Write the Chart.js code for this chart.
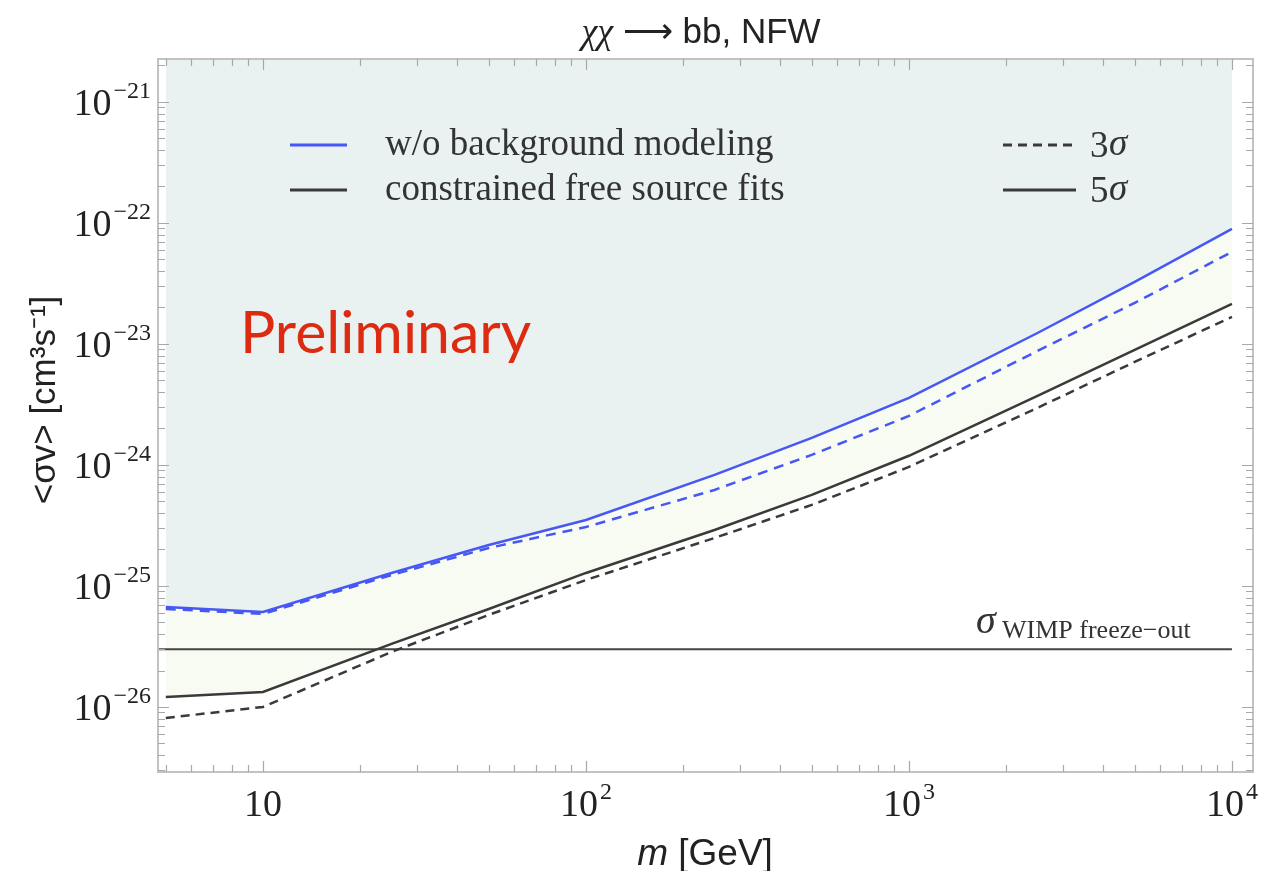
<!DOCTYPE html>
<html>
<head>
<meta charset="utf-8">
<script src="https://cdn.jsdelivr.net/npm/chart.js@4.4.1/dist/chart.umd.min.js"></script>
<style>
    html, body { margin: 0; padding: 0; background: #fff; }
    #wrap { width: 1264px; height: 871px; position: relative; }
</style>
</head>
<body>
<div id="wrap"><canvas id="chart"></canvas></div>
<script>
    // DM mass points (GeV) and the limits (cm^3 s^-1)
    var masses = [5, 10, 25, 50, 100, 250, 500, 1000, 2500, 5000, 10000];
    var noBkg5sigma = [6.7e-26, 6.1e-26, 1.28e-25, 2.18e-25, 3.51e-25, 8.27e-25, 1.67e-24, 3.58e-24, 1.23e-23, 3.25e-23, 8.92e-23];
    var noBkg3sigma = [6.45e-26, 5.87e-26, 1.23e-25, 2.06e-25, 3.07e-25, 6.21e-25, 1.21e-24, 2.54e-24, 8.75e-24, 2.18e-23, 5.76e-23];
    var fit5sigma = [1.21e-26, 1.33e-26, 3.32e-26, 6.45e-26, 1.28e-25, 2.90e-25, 5.65e-25, 1.19e-24, 3.72e-24, 8.92e-24, 2.14e-23];
    var fit3sigma = [8.1e-27, 1.0e-26, 2.85e-26, 5.76e-26, 1.12e-25, 2.49e-25, 4.67e-25, 9.62e-25, 2.96e-24, 7.10e-24, 1.67e-23];
    var freezeOut = 3e-26;

    var xTickExps = [1, 2, 3, 4];
    var yTickExps = [-26, -25, -24, -23, -22, -21];
    var xRange = [4.73, 11620];
    var yRange = [2.9e-27, 2.26e-21];

    var BLUE = '#4657f4';
    var DARK = '#3a3a3a';
    var SERIF = '"Liberation Serif", "DejaVu Serif", serif';
    var SANS = '"Liberation Sans", Arial, sans-serif';

    function series(values) {
        return masses.map(function (m, i) { return {x: m, y: values[i]}; });
    }

    // "10" with a raised exponent, anchored at (x, y)
    function powerLabel(ctx, exp, x, y, align) {
        var base = '10';
        var sup = exp === 1 ? '' : String(exp).replace('-', '\u2212');
        ctx.font = '38px ' + SERIF;
        var wb = ctx.measureText(base).width;
        ctx.font = '24px ' + SERIF;
        var ws = sup ? ctx.measureText(sup).width + 2 : 0;
        var left = align === 'right' ? x - wb - ws : x - (wb + ws) / 2;
        ctx.textAlign = 'left';
        ctx.textBaseline = 'alphabetic';
        ctx.font = '38px ' + SERIF;
        ctx.fillText(base, left, y + 13);
        if (sup) {
            ctx.font = '24px ' + SERIF;
            ctx.fillText(sup, left + wb + 2, y - 4);
        }
    }

    var decorations = {
        id: 'decorations',
        beforeDraw: function (chart) {
            var ctx = chart.ctx;
            ctx.save();
            ctx.fillStyle = '#fff';
            ctx.fillRect(0, 0, chart.width, chart.height);
            ctx.restore();
        },
        afterDatasetsDraw: function (chart) {
            var ctx = chart.ctx;
            var a = chart.chartArea;
            var xs = chart.scales.x, ys = chart.scales.y;
            ctx.save();

            // frame
            ctx.strokeStyle = '#c2c2c2';
            ctx.lineWidth = 2;
            ctx.strokeRect(a.left, a.top, a.right - a.left, a.bottom - a.top);

            // ticks on all four sides, pointing inward
            ctx.strokeStyle = '#a8a8a8';
            ctx.lineWidth = 1.2;
            ctx.beginPath();
            var e, k, v, p, len;
            for (e = 0; e <= 4; e++) {
                for (k = 1; k <= 9; k++) {
                    v = k * Math.pow(10, e);
                    if (v < xRange[0] || v > xRange[1]) continue;
                    p = Math.round(xs.getPixelForValue(v)) + 0.5;
                    len = k === 1 ? 11 : 7;
                    ctx.moveTo(p, a.bottom); ctx.lineTo(p, a.bottom - len);
                    ctx.moveTo(p, a.top); ctx.lineTo(p, a.top + len);
                }
            }
            for (e = -27; e <= -21; e++) {
                for (k = 1; k <= 9; k++) {
                    v = k * Math.pow(10, e);
                    if (v < yRange[0] || v > yRange[1]) continue;
                    p = Math.round(ys.getPixelForValue(v)) + 0.5;
                    len = k === 1 ? 11 : 7;
                    ctx.moveTo(a.left, p); ctx.lineTo(a.left + len, p);
                    ctx.moveTo(a.right, p); ctx.lineTo(a.right - len, p);
                }
            }
            ctx.stroke();

            // tick labels
            ctx.fillStyle = '#222';
            xTickExps.forEach(function (ex) {
                powerLabel(ctx, ex, xs.getPixelForValue(Math.pow(10, ex)), a.bottom + 31, 'center');
            });
            yTickExps.forEach(function (ex) {
                powerLabel(ctx, ex, a.left - 7, ys.getPixelForValue(Math.pow(10, ex)), 'right');
            });

            // legend, left block
            var ds = chart.data.datasets;
            ctx.textAlign = 'left';
            ctx.textBaseline = 'middle';
            ctx.lineWidth = 3;
            ctx.setLineDash([]);
            ctx.strokeStyle = ds[0].borderColor;
            ctx.beginPath(); ctx.moveTo(290, 145); ctx.lineTo(347, 145); ctx.stroke();
            ctx.strokeStyle = ds[2].borderColor;
            ctx.beginPath(); ctx.moveTo(290, 190); ctx.lineTo(347, 190); ctx.stroke();
            ctx.fillStyle = '#333';
            ctx.font = '37px ' + SERIF;
            ctx.fillText('w/o background modeling', 385, 145);
            ctx.fillText('constrained free source fits', 385, 190);

            // legend, right block
            ctx.strokeStyle = ds[3].borderColor;
            ctx.setLineDash(ds[3].borderDash);
            ctx.beginPath(); ctx.moveTo(1003, 145); ctx.lineTo(1076, 145); ctx.stroke();
            ctx.setLineDash([]);
            ctx.beginPath(); ctx.moveTo(1003, 190); ctx.lineTo(1076, 190); ctx.stroke();
            ctx.font = '37px ' + SERIF;
            ctx.fillText('3', 1090, 147);
            ctx.fillText('5', 1090, 192);
            ctx.font = 'italic 37px ' + SERIF;
            ctx.fillText('\u03c3', 1109, 145);
            ctx.fillText('\u03c3', 1109, 190);

            // freeze-out label
            var fy = ys.getPixelForValue(freezeOut);
            ctx.textBaseline = 'alphabetic';
            ctx.font = 'italic 40px ' + SERIF;
            ctx.fillText('\u03c3', 976, fy - 16);
            ctx.font = '26px ' + SERIF;
            ctx.fillText('WIMP freeze\u2212out', 1002, fy - 11);

            // preliminary stamp
            ctx.fillStyle = '#dc2b10';
            ctx.font = '59px Lato, "Open Sans", sans-serif';
            ctx.fillText('Preliminary', 240, 353);

            // title
            ctx.fillStyle = '#222';
            ctx.font = 'italic 36px ' + SERIF;
            var w1 = ctx.measureText('\u03c7\u03c7').width;
            ctx.font = '35px ' + SANS;
            var rest = ' \u27f6 bb, NFW';
            var w2 = ctx.measureText(rest).width;
            var tx = 701 - (w1 + w2) / 2;
            ctx.font = 'italic 36px ' + SERIF;
            ctx.fillText('\u03c7\u03c7', tx, 43);
            ctx.font = '35px ' + SANS;
            ctx.fillText(rest, tx + w1, 43);

            // x axis title
            ctx.font = 'italic 37px ' + SANS;
            var wm = ctx.measureText('m').width;
            ctx.font = '37px ' + SANS;
            var wg = ctx.measureText(' [GeV]').width;
            var mx = 705 - (wm + wg) / 2;
            ctx.font = 'italic 37px ' + SANS;
            ctx.fillText('m', mx, 865);
            ctx.font = '37px ' + SANS;
            ctx.fillText(' [GeV]', mx + wm, 865);

            // y axis title
            ctx.translate(55, 400);
            ctx.rotate(-Math.PI / 2);
            ctx.textAlign = 'center';
            ctx.font = '35px ' + SANS;
            ctx.fillText('<\u03c3v> [cm\u00b3s\u207b\u00b9]', 0, 0);

            ctx.restore();
        }
    };

    new Chart(document.getElementById('chart'), {
        type: 'line',
        data: {
            datasets: [{
                label: 'w/o background modeling, 5 sigma',
                data: series(noBkg5sigma),
                borderColor: BLUE,
                borderWidth: 2.5,
                backgroundColor: '#e9f1f1',
                fill: 'end'
            }, {
                label: 'w/o background modeling, 3 sigma',
                data: series(noBkg3sigma),
                borderColor: BLUE,
                borderWidth: 2.5,
                borderDash: [10, 7],
                fill: false
            }, {
                label: 'constrained free source fits, 5 sigma',
                data: series(fit5sigma),
                borderColor: DARK,
                borderWidth: 2.5,
                backgroundColor: '#f8fbf2',
                fill: {target: 0}
            }, {
                label: 'constrained free source fits, 3 sigma',
                data: series(fit3sigma),
                borderColor: DARK,
                borderWidth: 2.5,
                borderDash: [9, 6],
                fill: false
            }, {
                label: 'WIMP freeze-out',
                data: [{x: xRange[0], y: freezeOut}, {x: 10000, y: freezeOut}],
                borderColor: '#444',
                borderWidth: 2,
                fill: false
            }]
        },
        options: {
            responsive: true,
            maintainAspectRatio: false,
            animation: false,
            devicePixelRatio: 1,
            layout: {padding: {left: 158, right: 11, top: 59, bottom: 99}},
            elements: {point: {radius: 0}, line: {tension: 0}},
            plugins: {
                legend: {display: false},
                tooltip: {enabled: false},
                // all fills go under every line, including the freeze-out level
                filler: {drawTime: 'beforeDatasetsDraw'}
            },
            scales: {
                x: {type: 'logarithmic', min: xRange[0], max: xRange[1], display: false},
                y: {type: 'logarithmic', min: yRange[0], max: yRange[1], display: false}
            }
        },
        plugins: [decorations]
    });
</script>
</body>
</html>
